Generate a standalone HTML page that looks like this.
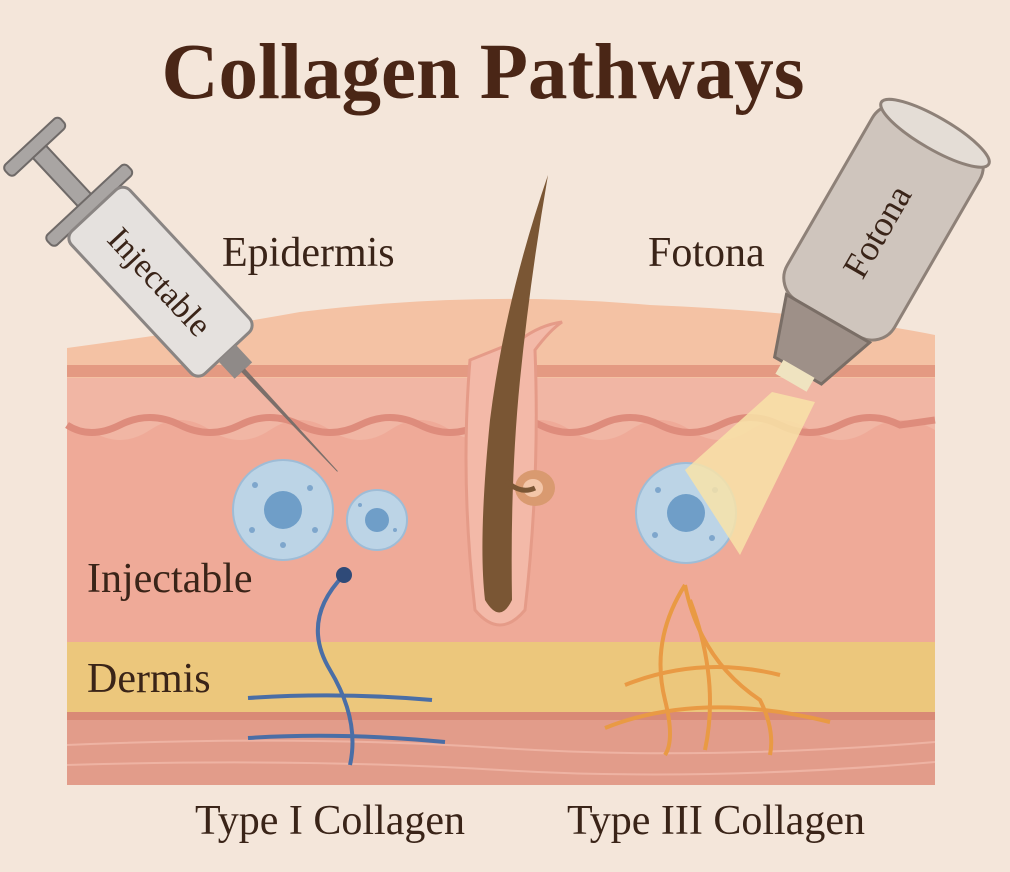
<!DOCTYPE html>
<html><head><meta charset="utf-8"><style>
html,body{margin:0;padding:0;background:#f4e6da;}
svg{display:block}
text{font-family:"Liberation Serif",serif;fill:#3a2418}
</style></head><body>
<svg width="1010" height="872" viewBox="0 0 1010 872" xmlns="http://www.w3.org/2000/svg">
<rect width="1010" height="872" fill="#f4e6da"/>
<text x="483" y="98" font-size="79" font-weight="bold" text-anchor="middle" style="fill:#4a2616">Collagen Pathways</text>

<rect x="67" y="715" width="868" height="70" fill="#e29c8a"/>
<path d="M67 745 Q300 735 500 748 T935 742" stroke="#eeb3a3" stroke-width="2" fill="none"/>
<path d="M67 765 Q300 758 500 770 T935 762" stroke="#eeb3a3" stroke-width="2" fill="none"/>
<rect x="67" y="640" width="868" height="78" fill="#ecc77c"/>
<rect x="67" y="712" width="868" height="8" fill="#d98a76"/>
<rect x="67" y="420" width="868" height="222" fill="#efaa98"/>
<path d="M67 370 L935 370 L935 430 Q900 410 870 430 T810 430 T750 430 T690 430 T630 430 T570 430 T510 430 T450 430 T390 430 T330 430 T270 430 T210 430 T150 430 T90 430 L67 425 Z" fill="#f1b6a4"/>
<path d="M67 425 Q90 440 120 425 T180 425 T240 425 T300 425 T360 425 T420 425 T480 425 T540 425 T600 425 T660 425 T720 425 T780 425 T840 425 T900 425 L935 420" stroke="#de8c7c" stroke-width="7" fill="none"/>
<path d="M67 348 Q200 330 300 312 Q480 290 650 305 Q820 312 935 335 L935 378 L67 378 Z" fill="#f4c2a4"/>
<rect x="67" y="365" width="868" height="12" fill="#e49a82"/>
<path d="M470 360 Q460 480 475 610 Q500 640 525 610 Q540 480 535 350 Q550 330 562 322 Q540 325 520 340 Z" fill="#f3b9a8" stroke="#e59b88" stroke-width="3"/>
<ellipse cx="535" cy="488" rx="20" ry="18" fill="#d99a70"/>
<ellipse cx="533" cy="488" rx="10" ry="9" fill="#f3c6a8"/>
<path d="M548 175 Q505 300 490 420 Q478 540 485 600 Q500 625 512 600 Q510 480 520 380 Q530 280 548 175 Z" fill="#7a5634"/>
<path d="M505 480 Q520 495 535 488" stroke="#7a5634" stroke-width="5" fill="none"/>
<g>
<circle cx="283" cy="510" r="50" fill="#bcd4e6" stroke="#9ebcd6" stroke-width="2"/>
<circle cx="283" cy="510" r="19" fill="#6f9ec8"/>
<circle cx="377" cy="520" r="30" fill="#bcd4e6" stroke="#9ebcd6" stroke-width="2"/>
<circle cx="377" cy="520" r="12" fill="#6f9ec8"/>
<circle cx="686" cy="513" r="50" fill="#bcd4e6" stroke="#9ebcd6" stroke-width="2"/>
<circle cx="686" cy="513" r="19" fill="#6f9ec8"/>
<g fill="#7ea6cc"><circle cx="255" cy="485" r="3"/><circle cx="310" cy="488" r="3"/><circle cx="252" cy="530" r="3"/><circle cx="315" cy="530" r="3"/><circle cx="283" cy="545" r="3"/><circle cx="658" cy="490" r="3"/><circle cx="715" cy="490" r="3"/><circle cx="655" cy="535" r="3"/><circle cx="712" cy="538" r="3"/><circle cx="360" cy="505" r="2"/><circle cx="395" cy="530" r="2"/></g>
</g>
<g stroke="#4a6ea6" stroke-width="4" fill="none">
<path d="M344 575 Q300 620 330 670 Q360 720 350 765"/>
<path d="M248 698 Q340 692 432 700"/>
<path d="M248 738 Q340 732 445 742"/>
</g>
<circle cx="344" cy="575" r="8" fill="#2f4a78"/>
<g stroke="#e99a44" stroke-width="4" fill="none">
<path d="M685 585 Q650 640 665 700 Q675 740 665 755"/>
<path d="M685 585 Q700 660 760 700 Q775 730 770 755"/>
<path d="M625 685 Q700 655 780 675"/>
<path d="M605 728 Q700 690 830 722"/>
<path d="M690 600 Q720 680 705 750"/>
</g>
<path d="M772 392 L815 402 L740 555 L685 470 Z" fill="#f8e3a8" opacity="0.85"/>
<g transform="translate(878 232) rotate(30)">
<rect x="-62" y="-122" width="124" height="222" rx="26" fill="#cfc5bd" stroke="#8e8178" stroke-width="3"/>
<ellipse cx="0" cy="-114" rx="62" ry="16" fill="#e4ddd6" stroke="#8e8178" stroke-width="3"/>
<path d="M-48 100 L48 100 L27 160 L-27 160 Z" fill="#9e9088" stroke="#7a6e66" stroke-width="3"/>
<rect x="-18" y="158" width="36" height="16" fill="#efe3c0"/>
<text x="0" y="0" font-size="36" transform="rotate(-90)" text-anchor="middle" dy="11">Fotona</text>
</g>
<g transform="translate(34 146) rotate(47)">
<rect x="-6" y="-38" width="14" height="76" rx="5" fill="#a9a5a3" stroke="#6f6a68" stroke-width="2"/>
<rect x="8" y="-9" width="70" height="18" fill="#a9a5a3" stroke="#6f6a68" stroke-width="2"/>
<rect x="74" y="-55" width="14" height="110" rx="5" fill="#a9a5a3" stroke="#6f6a68" stroke-width="2"/>
<rect x="88" y="-40" width="195" height="80" rx="10" fill="#e5e1de" stroke="#8a8583" stroke-width="3"/>
<rect x="283" y="-12" width="24" height="24" fill="#8f8a88"/>
<path d="M307 -2 L445 0 L307 2 Z" fill="#7b6f6a" stroke="#7b6f6a" stroke-width="1"/>
<text x="185" y="12" font-size="34" text-anchor="middle">Injectable</text>
</g>
<text x="222" y="266" font-size="42">Epidermis</text>
<text x="648" y="266" font-size="42">Fotona</text>
<text x="87" y="592" font-size="42">Injectable</text>
<text x="87" y="692" font-size="42">Dermis</text>
<text x="195" y="834" font-size="42">Type I Collagen</text>
<text x="567" y="834" font-size="42">Type III Collagen</text>
</svg>
</body></html>
